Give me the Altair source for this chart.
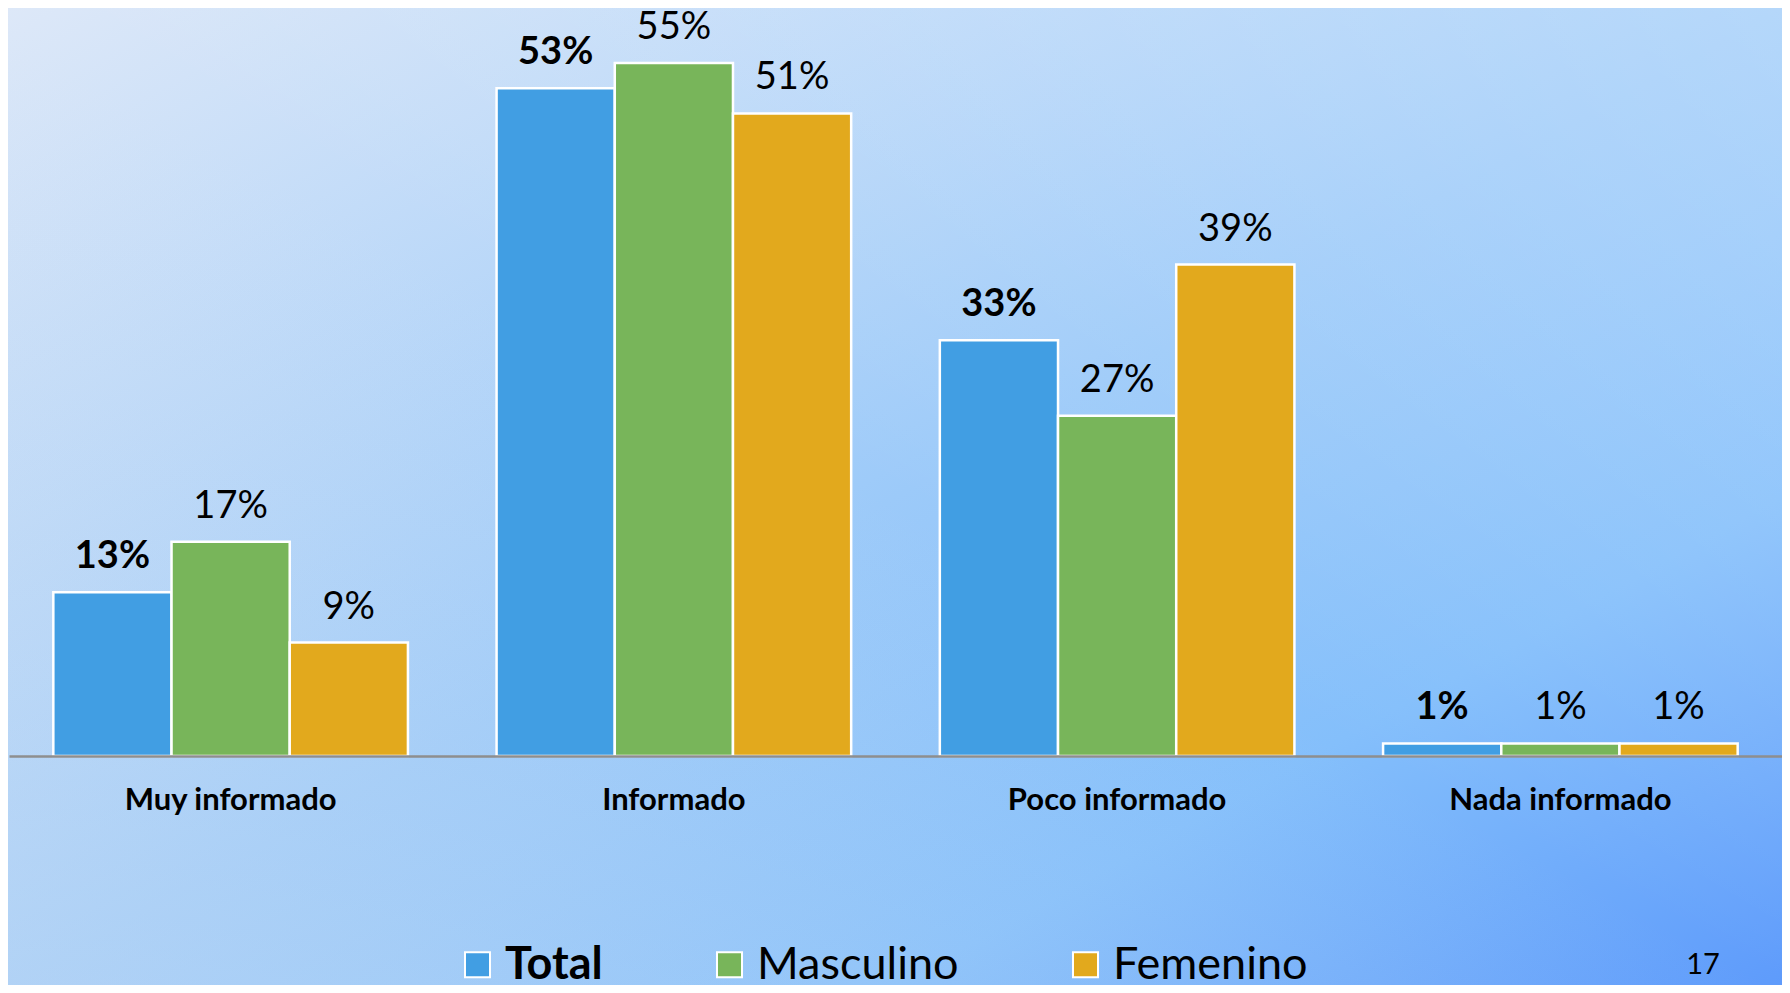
import altair as alt
import pandas as pd

categories = ["Muy informado", "Informado", "Poco informado", "Nada informado"]
series = ["Total", "Masculino", "Femenino"]
total = [13, 53, 33, 1]
masculino = [17, 55, 27, 1]
femenino = [9, 51, 39, 1]
colors = ["#419EE3", "#78B55A", "#E2A91D"]
page_number = ["17"]

rows = []
for s, vals in zip(series, [total, masculino, femenino]):
    for c, v in zip(categories, vals):
        rows.append({"categoria": c, "serie": s, "valor": v})
df = pd.DataFrame(rows)
df["etiqueta"] = df["valor"].astype(str) + "%"

FONT = "Lato"
PLOT_W, PLOT_H = 1773, 748
CANVAS_W, CANVAS_H = 1774, 977
PX_PER_PCT = 12.6

bg_df = pd.DataFrame({"a": [0]})
background = alt.Chart(bg_df).mark_rect(
    fill=alt.LinearGradient(
        gradient="linear",
        stops=[
            alt.GradientStop(color="#dde8f8", offset=0),
            alt.GradientStop(color="#9ccaf9", offset=0.5),
            alt.GradientStop(color="#84bffb", offset=0.75),
            alt.GradientStop(color="#5e9bfb", offset=1),
        ],
        x1=0, y1=0, x2=1, y2=1,
    )
).encode(x=alt.value(-1), x2=alt.value(CANVAS_W - 1), y=alt.value(0), y2=alt.value(CANVAS_H))

overlay = alt.Chart(bg_df).mark_rect(
    fill=alt.LinearGradient(
        gradient="linear",
        stops=[
            alt.GradientStop(color="rgba(255,255,255,0.25)", offset=0),
            alt.GradientStop(color="rgba(255,255,255,0)", offset=0.5),
            alt.GradientStop(color="rgba(222,228,238,0)", offset=0.5),
            alt.GradientStop(color="rgba(222,228,238,0.32)", offset=1),
        ],
        x1=1, y1=0, x2=0, y2=1,
    )
).encode(x=alt.value(-1), x2=alt.value(CANVAS_W - 1), y=alt.value(0), y2=alt.value(CANVAS_H))

x_enc = alt.X(
    "categoria:N",
    sort=categories,
    scale=alt.Scale(paddingInner=0.2, paddingOuter=0.1),
    axis=alt.Axis(
        title=None, labelAngle=0, ticks=False, labelPadding=29, labelLimit=500,
        labelFont=FONT, labelFontSize=31, labelFontWeight="bold", labelColor="black",
        domainColor="#8E8E8E", domainWidth=2.5, grid=False, zindex=1,
    ),
)
xoff = alt.XOffset("serie:N", sort=series, scale=alt.Scale(paddingInner=0, paddingOuter=0))
y_enc = alt.Y("valor:Q", scale=alt.Scale(domain=[0, PLOT_H / PX_PER_PCT], nice=False, zero=True), axis=None)

bars = alt.Chart(df).mark_bar(stroke="white", strokeWidth=2.5).encode(
    x=x_enc,
    xOffset=xoff,
    y=y_enc,
    color=alt.Color(
        "serie:N",
        sort=series,
        scale=alt.Scale(domain=series, range=colors),
        legend=alt.Legend(
            title=None, orient="none", legendX=446, legendY=934, direction="horizontal",
            symbolType="square", symbolSize=625, symbolStrokeColor="white", symbolStrokeWidth=2,
            symbolOpacity=1,
            labelFont=FONT, labelFontSize=45, labelColor="black", labelOffset=5,
            labelFontWeight=alt.ExprRef("datum.label == 'Total' ? 'bold' : 'normal'"),
            columnPadding=104, padding=0, labelLimit=400,
        ),
    ),
)

labels_total = alt.Chart(df).transform_filter(alt.datum.serie == "Total").mark_text(
    font=FONT, fontSize=38, fontWeight="bold", color="black", baseline="alphabetic", dy=-24
).encode(x=x_enc, xOffset=xoff, y=y_enc, text="etiqueta:N")

labels_other = alt.Chart(df).transform_filter(alt.datum.serie != "Total").mark_text(
    font=FONT, fontSize=38, fontWeight="normal", color="black", baseline="alphabetic", dy=-24
).encode(x=x_enc, xOffset=xoff, y=y_enc, text="etiqueta:N")

page_df = pd.DataFrame({"pagina": page_number})
page = alt.Chart(page_df).mark_text(
    font=FONT, fontSize=29, color="black", baseline="alphabetic", align="center"
).encode(x=alt.value(1694), y=alt.value(966), text="pagina:N")

chart = alt.layer(background, overlay, bars, labels_total, labels_other, page).properties(
    width=PLOT_W, height=PLOT_H,
    autosize=alt.AutoSizeParams(type="none"),
    padding={"left": 1, "top": 0, "right": CANVAS_W - PLOT_W - 1, "bottom": CANVAS_H - PLOT_H},
    background="white",
).configure_view(stroke=None)

chart.save("out.html", embed_options={"renderer": "svg", "actions": False})
